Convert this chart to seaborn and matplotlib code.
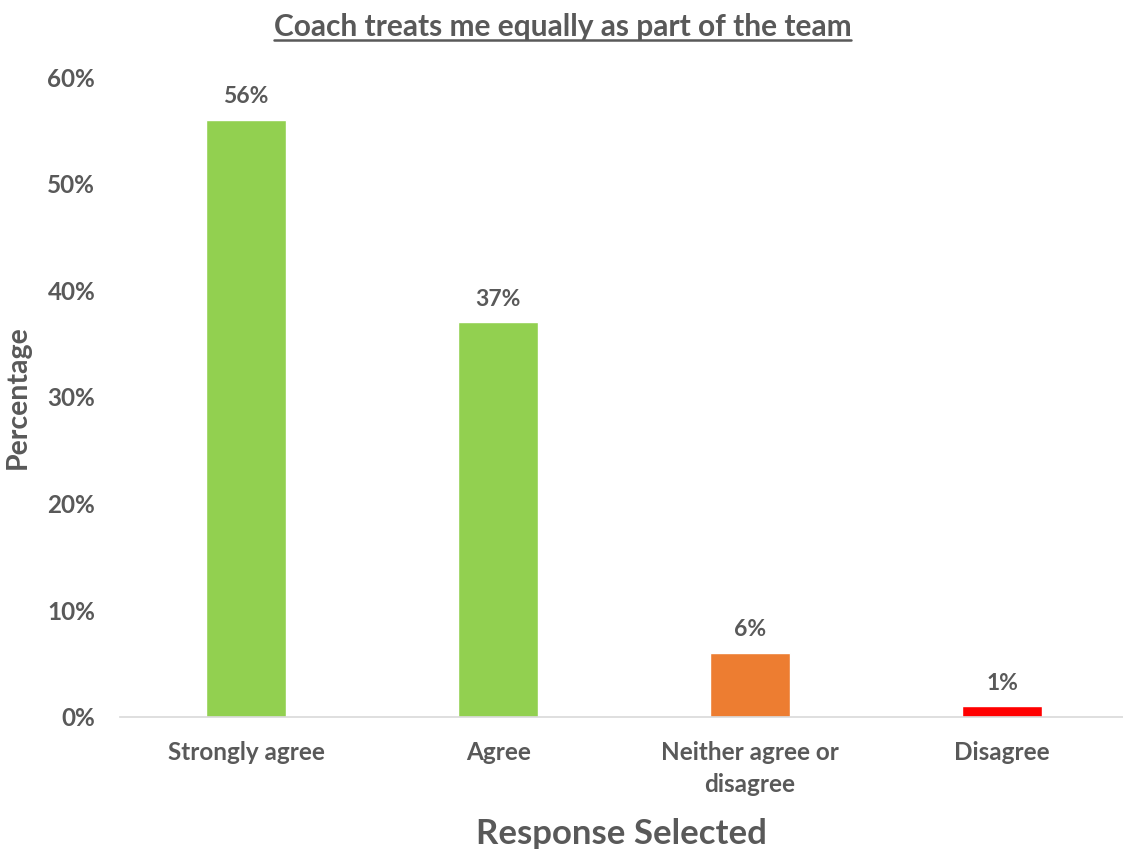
import matplotlib
matplotlib.use('Agg')
import matplotlib.pyplot as plt
import seaborn as sns
import pandas as pd
from matplotlib.lines import Line2D

# Data
responses = ['Strongly agree', 'Agree', 'Neither agree or\ndisagree', 'Disagree']
percent = [0.56, 0.37, 0.06, 0.01]
bar_colors = ['#92D050', '#92D050', '#ED7D31', '#FF0000']

df = pd.DataFrame({'Response': responses, 'Percent': percent})

sns.set_style('white')
plt.rcParams['font.family'] = ['Lato', 'DejaVu Sans']
grey = '#595959'

fig = plt.figure(figsize=(11.23, 8.49), dpi=100)
ax = fig.add_axes([0.107, 0.1555, 0.893, 0.7538])

sns.barplot(data=df, x='Response', y='Percent', hue='Response', palette=bar_colors,
            legend=False, width=0.32, saturation=1, ax=ax)

ax.set_ylim(0, 0.6)
ax.set_xlim(-0.5, 3.48)
ax.set_yticks([0, 0.1, 0.2, 0.3, 0.4, 0.5, 0.6])
ax.set_yticklabels([f'{int(round(v * 100))}%' for v in ax.get_yticks()])
ax.tick_params(axis='both', length=0, labelsize=17.5, colors=grey)
ax.tick_params(axis='y', pad=18)
ax.tick_params(axis='x', pad=17)
for lab in ax.get_xticklabels() + ax.get_yticklabels():
    lab.set_fontweight('bold')
    lab.set_linespacing(1.5)

for s in ['top', 'right', 'left']:
    ax.spines[s].set_visible(False)
ax.spines['bottom'].set_color('#D9D9D9')
ax.spines['bottom'].set_linewidth(1.2)

# value labels
for i, v in enumerate(percent):
    ax.text(i, v + 0.012, f'{int(round(v * 100))}%', ha='center', va='bottom',
            fontsize=16.5, fontweight='bold', color=grey)

ax.set_xlabel('Response Selected', fontsize=25, fontweight='bold', color=grey, labelpad=16)
ax.set_ylabel('Percentage', fontsize=20.5, fontweight='bold', color=grey, labelpad=12)

title = fig.text(0.501, 0.968, 'Coach treats me equally as part of the team', ha='center',
                 va='center', fontsize=21.5, fontweight='bold', color=grey)

# underline the title
fig.canvas.draw()
bb = title.get_window_extent()
y_line = bb.y0 + 1
fig.add_artist(Line2D([bb.x0 / fig.bbox.width, bb.x1 / fig.bbox.width],
                      [y_line / fig.bbox.height, y_line / fig.bbox.height],
                      color=grey, linewidth=1.8))

fig.savefig('out.png', dpi=100)
